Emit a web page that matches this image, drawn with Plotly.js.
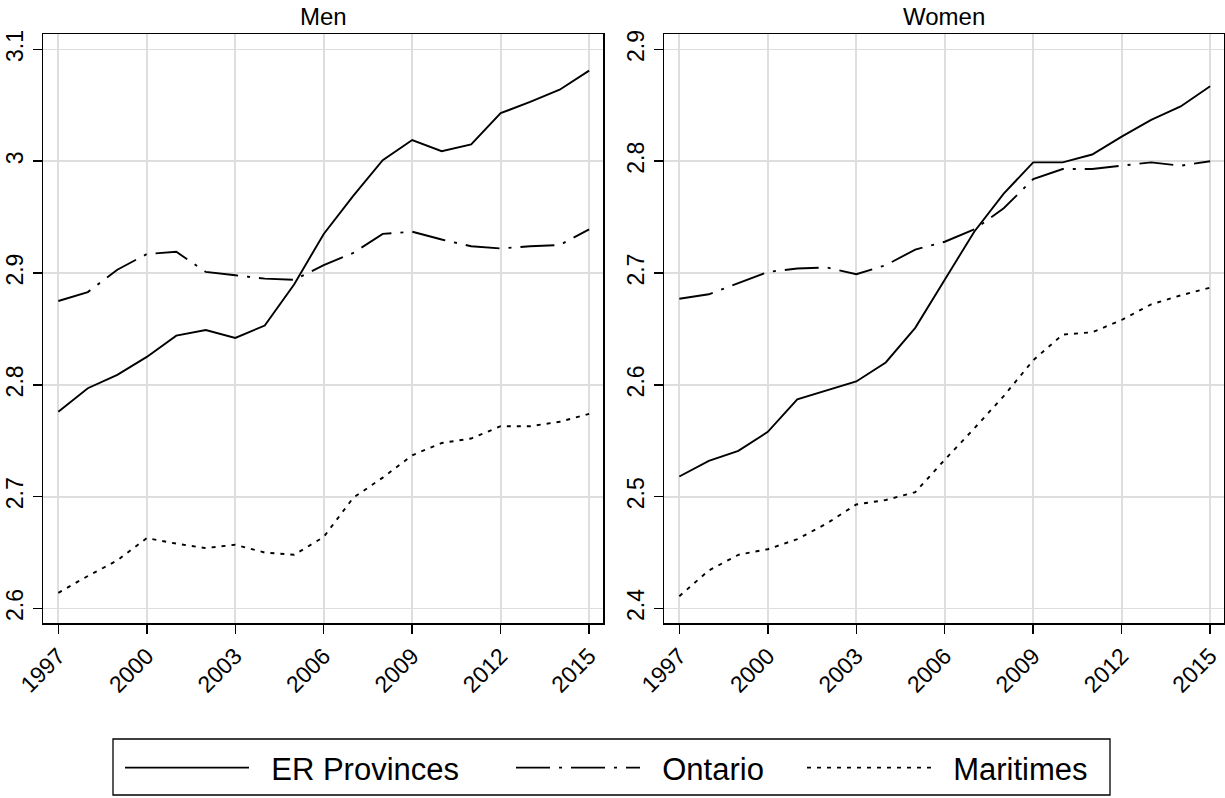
<!DOCTYPE html>
<html>
<head>
<meta charset="utf-8">
<script src="https://cdn.plot.ly/plotly-3.0.1.min.js"></script>
<style>html,body{margin:0;padding:0;background:#fff;}#chart{width:1225px;height:798px;}</style>
</head>
<body>
<div id="chart"></div>
<script>
const years = [1997,1998,1999,2000,2001,2002,2003,2004,2005,2006,2007,2008,2009,2010,2011,2012,2013,2014,2015];

const menER = [2.776,2.797,2.809,2.825,2.844,2.849,2.842,2.853,2.890,2.935,2.969,3.001,3.019,3.009,3.015,3.043,3.053,3.064,3.081];
const menOntario = [2.875,2.883,2.903,2.917,2.919,2.901,2.898,2.895,2.894,2.907,2.918,2.935,2.937,2.930,2.924,2.922,2.924,2.925,2.939];
const menMaritimes = [2.614,2.629,2.643,2.663,2.658,2.654,2.657,2.650,2.648,2.664,2.699,2.717,2.737,2.748,2.752,2.763,2.763,2.767,2.774];

const womenER = [2.518,2.532,2.541,2.558,2.587,2.595,2.603,2.620,2.651,2.694,2.737,2.771,2.799,2.799,2.806,2.822,2.837,2.849,2.867];
const womenOntario = [2.677,2.681,2.691,2.701,2.704,2.705,2.699,2.707,2.721,2.728,2.739,2.758,2.784,2.793,2.793,2.796,2.799,2.796,2.800];
const womenMaritimes = [2.411,2.434,2.448,2.453,2.462,2.476,2.493,2.497,2.504,2.533,2.561,2.590,2.622,2.645,2.647,2.658,2.672,2.680,2.687];

const seriesNames = ['ER Provinces','Ontario','Maritimes'];
const panelTitles = ['Men','Women'];
const xTicks = [1997,2000,2003,2006,2009,2012,2015];
const yTicksMen = [2.6,2.7,2.8,2.9,3.0,3.1];
const yTickTextMen = ['2.6','2.7','2.8','2.9','3','3.1'];
const yTicksWomen = [2.4,2.5,2.6,2.7,2.8,2.9];
const yTickTextWomen = ['2.4','2.5','2.6','2.7','2.8','2.9'];

const W = 1225, H = 798;
const FONT = 'Liberation Sans, Arial, Helvetica, sans-serif';
const dashes = ['solid', '34px,9px,3px,9px', '4px,6px'];
const legendIds = ['legend','legend2','legend3'];
const legendX = [120, 511, 802];

const menData = [menER, menOntario, menMaritimes];
const womenData = [womenER, womenOntario, womenMaritimes];

const traces = [];
menData.forEach((d, i) => {
  traces.push({x: years, y: d, type: 'scatter', mode: 'lines', name: '\u00a0\u00a0' + seriesNames[i],
    line: {color: '#000', width: 1.9, dash: dashes[i]}, xaxis: 'x', yaxis: 'y',
    showlegend: true, legend: legendIds[i]});
});
womenData.forEach((d, i) => {
  traces.push({x: years, y: d, type: 'scatter', mode: 'lines', name: seriesNames[i],
    line: {color: '#000', width: 1.9, dash: dashes[i]}, xaxis: 'x2', yaxis: 'y2', showlegend: false});
});

function xAxis(domain, anchor) {
  return {domain: domain, anchor: anchor, range: [1996.48, 2015.47], tickvals: xTicks,
    ticktext: xTicks.map(String), tickangle: -45, ticks: 'outside', ticklen: 9, tickwidth: 1.5,
    tickcolor: '#000', showline: true, linecolor: '#000', linewidth: 1.5, mirror: true,
    showgrid: true, gridcolor: '#dedede', gridwidth: 1.8, zeroline: false,
    tickfont: {family: FONT, size: 23, color: '#000'}, fixedrange: true};
}
function yAxis(domain, anchor, range, vals, text) {
  return {domain: domain, anchor: anchor, range: range, tickvals: vals, ticktext: text,
    tickangle: -90, ticks: 'outside', ticklen: 9, tickwidth: 1.5, tickcolor: '#000',
    showline: true, linecolor: '#000', linewidth: 1.5, mirror: true,
    showgrid: true, gridcolor: '#dedede', gridwidth: 1.8, zeroline: false,
    tickfont: {family: FONT, size: 23, color: '#000'}, fixedrange: true};
}
function legendAt(px) {
  return {orientation: 'h', x: px/W, y: 1 - 741/H, xanchor: 'left', yanchor: 'top',
    borderwidth: 0, bgcolor: 'rgba(0,0,0,0)', itemwidth: 124,
    font: {family: FONT, size: 31, color: '#000'}};
}

const yDom = [1 - 623/H, 1 - 34/H];
const layout = {
  width: W, height: H,
  margin: {l: 0, r: 0, t: 0, b: 0},
  paper_bgcolor: '#fff', plot_bgcolor: '#fff',
  font: {family: FONT, color: '#000'},
  xaxis: xAxis([43/W, 603/W], 'y'),
  yaxis: yAxis(yDom, 'x', [2.587, 3.1138], yTicksMen, yTickTextMen),
  xaxis2: xAxis([664/W, 1224/W], 'y2'),
  yaxis2: yAxis(yDom, 'x2', [2.387, 2.9138], yTicksWomen, yTickTextWomen),
  annotations: [
    {text: panelTitles[0], x: 323/W, y: 1 - 16/H, xref: 'paper', yref: 'paper', showarrow: false,
      xanchor: 'center', yanchor: 'middle', font: {family: FONT, size: 24, color: '#000'}},
    {text: panelTitles[1], x: 944/W, y: 1 - 16/H, xref: 'paper', yref: 'paper', showarrow: false,
      xanchor: 'center', yanchor: 'middle', font: {family: FONT, size: 24, color: '#000'}}
  ],
  shapes: [
    {type: 'rect', xref: 'paper', yref: 'paper', x0: 113/W, x1: 1110/W, y0: 1 - 795/H, y1: 1 - 739/H,
      line: {color: '#000', width: 1.3}, fillcolor: 'rgba(0,0,0,0)', layer: 'below'}
  ],
  showlegend: true,
  legend: legendAt(legendX[0]),
  legend2: legendAt(legendX[1]),
  legend3: legendAt(legendX[2])
};

Plotly.newPlot('chart', traces, layout, {displayModeBar: false, staticPlot: true});
</script>
</body>
</html>
